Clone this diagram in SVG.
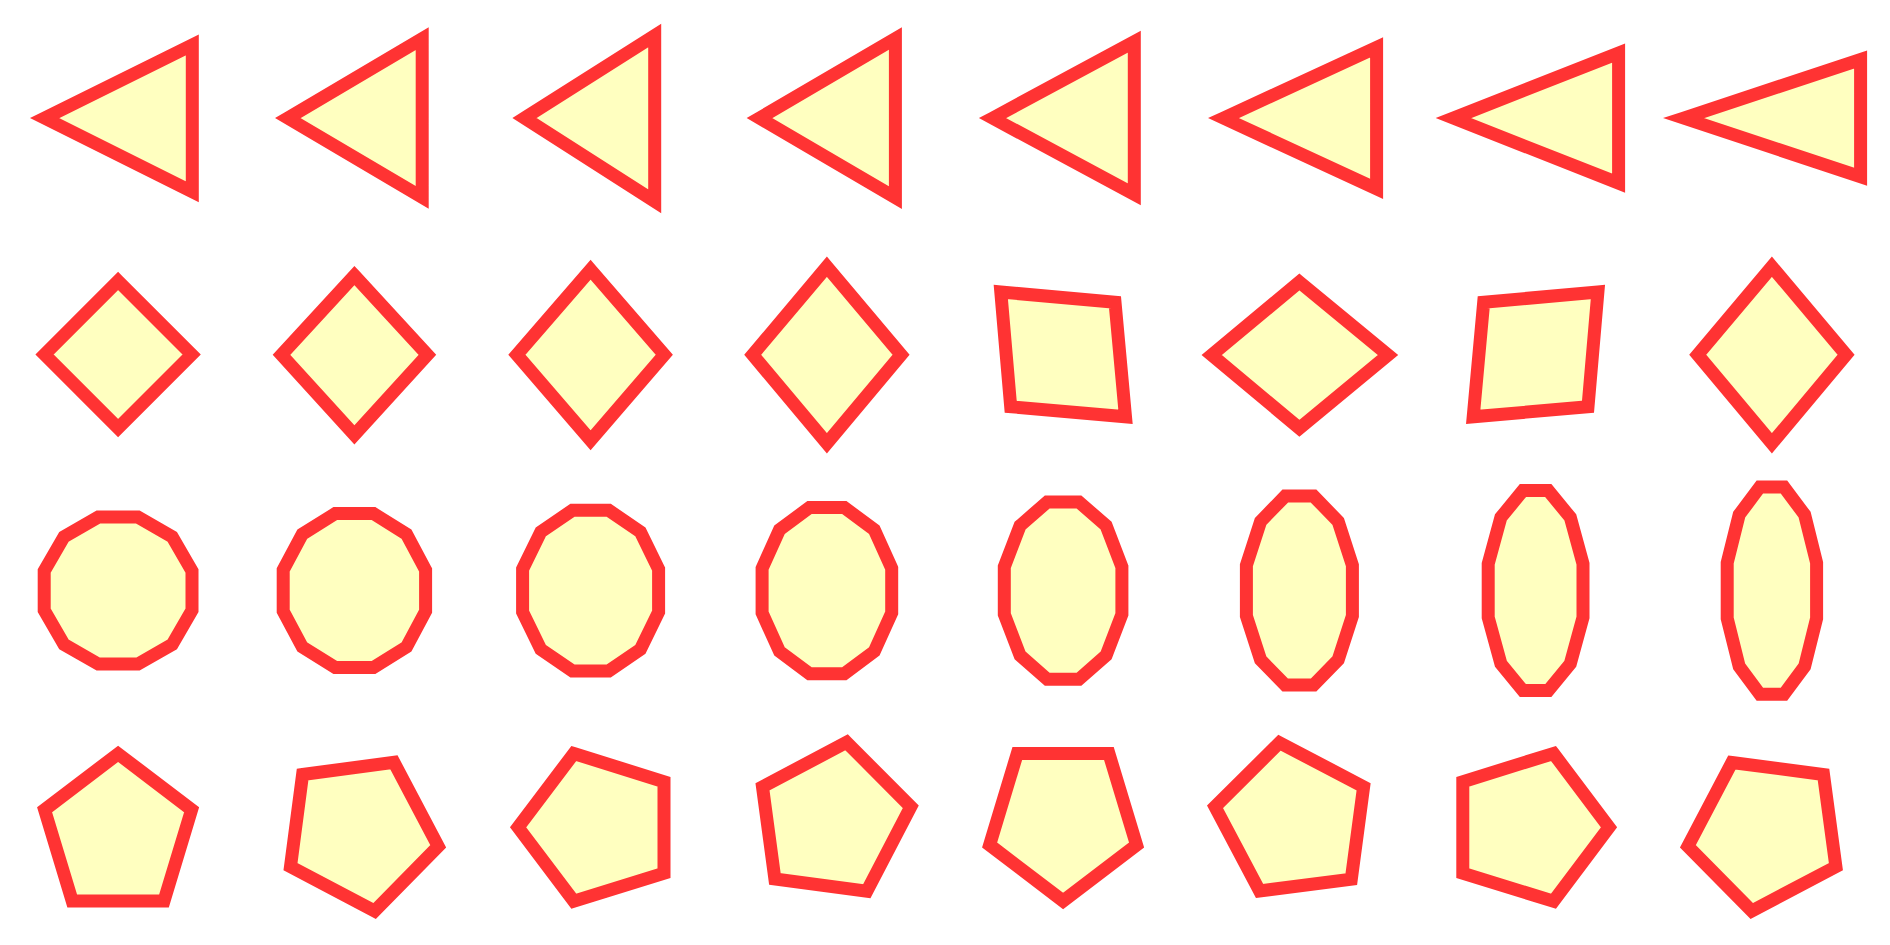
<svg xmlns="http://www.w3.org/2000/svg" width="1890" height="945" viewBox="0 0 1890 945">
<style>
.s{fill:#ffffc0;stroke:#ff3333;stroke-width:13;stroke-linejoin:miter;stroke-miterlimit:10}
</style>
<rect width="1890" height="945" fill="#ffffff"/>
<g id="row1">
<g id="t1"><polygon class="s" points="44.6,118.1 192.3,45 192.3,191.7"/></g>
<g id="t2"><polygon class="s" points="287.8,118.1 422.2,38.7 422.2,197.3"/></g>
<g id="t3"><polygon class="s" points="524.5,118.1 654.7,35.5 654.7,201.3"/></g>
<g id="t4"><polygon class="s" points="759.5,118.1 895.4,38.5 895.4,197.7"/></g>
<g id="t5"><polygon class="s" points="992.6,118.1 1134.3,41.7 1134.3,194.3"/></g>
<g id="t6"><polygon class="s" points="1223.5,118.1 1376.6,47.3 1376.6,188.9"/></g>
<g id="t7"><polygon class="s" points="1453.4,118.1 1618.6,53.1 1618.6,183.1"/></g>
<g id="t8"><polygon class="s" points="1683.7,118.1 1860.6,59.5 1860.6,176.7"/></g>
</g>
<g id="row2">
<g id="q1"><polygon class="s" points="118.1,281 191.6,354.5 118.1,428 44.6,354.5"/></g>
<g id="q2"><polygon class="s" points="354.4,275.5 427.4,354.8 354.4,434.8 281.5,354.8"/></g>
<g id="q3"><polygon class="s" points="590.6,269.7 664.3,354.8 590.6,440.3 516.9,354.8"/></g>
<g id="q4"><polygon class="s" points="826.9,266.7 901.1,354.8 826.9,443.3 752.7,354.8"/></g>
<g id="q5"><polygon class="s" points="1000.8,292 1115,302.2 1125.5,416.8 1010.7,406.7"/></g>
<g id="q6"><polygon class="s" points="1299.4,282 1388,355 1299.4,428.3 1211.7,355"/></g>
<g id="q7"><polygon class="s" points="1597.9,292 1483.7,302.2 1473.2,416.8 1588,406.7"/></g>
<g id="q8"><polygon class="s" points="1771.9,266.7 1846.1,354.8 1771.9,443.3 1697.7,354.8"/></g>
</g>
<g id="row3">
<g id="d1"><polygon class="s" points="192,570.9 172.2,536.8 137.9,517.1 98.3,517.1 64,536.8 44.2,570.9 44.2,610.3 64,644.4 98.3,664.1 137.9,664.1 172.2,644.4 192,610.3"/></g>
<g id="d2"><polygon class="s" points="425.6,570 406.5,534.2 373.5,513.6 335.3,513.6 302.3,534.2 283.2,570 283.2,611.2 302.3,647 335.3,667.6 373.5,667.6 406.5,647 425.6,611.2"/></g>
<g id="d3"><polygon class="s" points="658.6,569.1 640.4,531.8 608.8,510.3 572.4,510.3 540.8,531.8 522.6,569.1 522.6,612.1 540.8,649.4 572.4,670.9 608.8,670.9 640.4,649.4 658.6,612.1"/></g>
<g id="d4"><polygon class="s" points="891.7,568.3 874.3,529.8 844.3,507.5 809.5,507.5 779.5,529.8 762.1,568.3 762.1,612.9 779.5,651.4 809.5,673.7 844.3,673.7 874.3,651.4 891.7,612.9"/></g>
<g id="d5"><polygon class="s" points="1121.9,566.8 1106.1,525.7 1078.9,501.9 1047.3,501.9 1020.1,525.7 1004.3,566.8 1004.3,614.4 1020.1,655.5 1047.3,679.3 1078.9,679.3 1106.1,655.5 1121.9,614.4"/></g>
<g id="d6"><polygon class="s" points="1352.4,565.3 1338.2,521.4 1313.6,496.1 1285.2,496.1 1260.6,521.4 1246.4,565.3 1246.4,615.9 1260.6,659.8 1285.2,685.1 1313.6,685.1 1338.2,659.8 1352.4,615.9"/></g>
<g id="d7"><polygon class="s" points="1583,563.8 1570.3,517.4 1548.3,490.6 1522.9,490.6 1500.9,517.4 1488.2,563.8 1488.2,617.4 1500.9,663.8 1522.9,690.6 1548.3,690.6 1570.3,663.8 1583,617.4"/></g>
<g id="d8"><polygon class="s" points="1816.6,562.8 1804.6,514.7 1783.9,486.9 1759.9,486.9 1739.2,514.7 1727.2,562.8 1727.2,618.4 1739.2,666.5 1759.9,694.3 1783.9,694.3 1804.6,666.5 1816.6,618.4"/></g>
</g>
<g id="row4">
<g id="p1"><polygon class="s" points="118.1,753.8 191.6,809.8 164,901 72.2,901 44.6,809.8"/></g>
<g id="p2"><polygon class="s" points="302.6,774.5 393.9,762.3 438.2,846.3 374.6,911 290.5,866.7"/></g>
<g id="p3"><polygon class="s" points="573.8,753.5 664,781.7 664,873.3 573.8,901.2 518.1,827.3"/></g>
<g id="p4"><polygon class="s" points="846.6,742.3 910.8,806.8 866.8,891.2 774.9,879 762.5,786.8"/></g>
<g id="p5"><polygon class="s" points="1017.3,753.5 1108.9,753.5 1136.6,845 1063.1,901 989.6,845"/></g>
<g id="p6"><polygon class="s" points="1279.5,742.7 1363.6,786.8 1351.3,879.2 1259.6,891 1215,806.8"/></g>
<g id="p7"><polygon class="s" points="1553.5,753.5 1609,827.3 1553.5,901.2 1462.8,873.3 1462.8,781.7"/></g>
<g id="p8"><polygon class="s" points="1731.9,762.5 1823.5,774.5 1835.9,866.7 1751.8,911 1687.9,846.3"/></g>
</g>
</svg>
